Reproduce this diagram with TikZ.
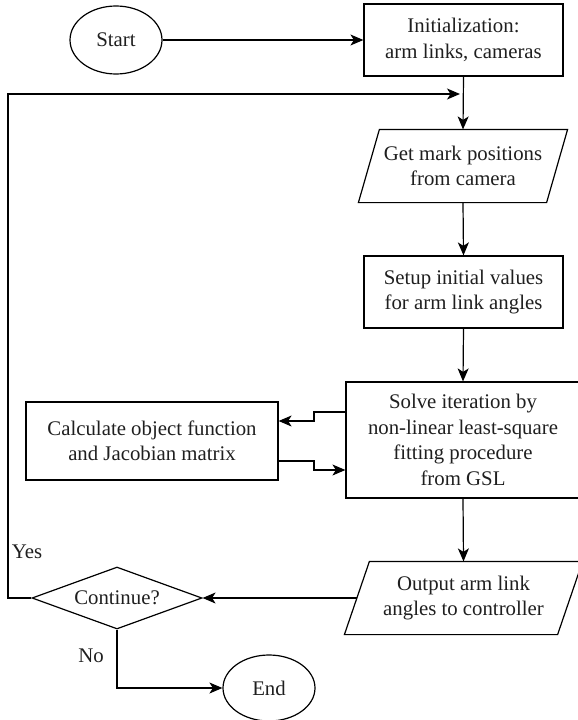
\documentclass[tikz,border=0pt]{standalone}
\usepackage{fontspec}
\setmainfont{Liberation Serif}
\usetikzlibrary{arrows.meta,shapes.geometric,calc}
\begin{document}
\begin{tikzpicture}[x=1pt,y=-1pt,
  line width=1.2pt,
  every node/.style={font=\fontsize{20.8}{25.5}\selectfont, align=center, inner sep=0pt, text=black!88},
  box/.style={draw, rectangle, minimum width=#1},
  oval/.style={draw, ellipse, minimum width=92pt, minimum height=68pt},
  para/.style={rectangle, minimum height=72pt},
  arr/.style={-{Stealth[length=13pt,width=11pt,inset=3.5pt]}},
  lbl/.style={font=\fontsize{20.8}{25.5}\selectfont}
]
\useasboundingbox (0,0) rectangle (578,720);
\clip (0,0) rectangle (578,720);

% nodes
\node[oval] (start) at (116,40) {Start};
\node[box=199pt, minimum height=72pt] (init) at (463.5,40) {Initialization:\\arm links, cameras};
\node[para, minimum width=208pt] (get) at (463,166) {Get mark positions\\from camera};
\draw ($(get.north west)+(21,0)$) -- (get.north east) -- ($(get.south east)-(21,0)$) -- (get.south west) -- cycle;
\node[box=199pt, minimum height=72pt] (setup) at (463.5,292) {Setup initial values\\for arm link angles};
\node[box=234pt, minimum height=116pt] (solve) at (463,440) {Solve iteration by\\non-linear least-square\\fitting procedure\\from GSL};
\node[box=252pt, minimum height=78pt] (calc) at (152,441) {Calculate object function\\and Jacobian matrix};
\node[para, minimum width=237pt] (out) at (463.5,598) {Output arm link\\angles to controller};
\draw ($(out.north west)+(25,0)$) -- (out.north east) -- ($(out.south east)-(25,0)$) -- (out.south west) -- cycle;
\node[diamond, draw, minimum width=170pt, minimum height=62pt, aspect=2.74] (cont) at (117,598) {Continue?};
\node[oval, minimum height=66pt] (end) at (269,688) {End};

% labels
\node[lbl] (yes) at (27,552) {Yes};
\node[lbl] (no) at (91,656) {No};

% coordinates
\coordinate (fbleft) at (8,94);
\coordinate (fbend) at (460,94);
\coordinate (outw) at ($(out.west)+(12.5,0)$);

% connectors
\draw[arr] (start.east) -- (init.west);
\draw[arr] (init.south) -- (get.north);
\draw[arr] (cont.west) -| (fbleft) -- (fbend);
\draw[arr] (get.south) -- (setup.north);
\draw[arr] (setup.south) -- (solve.north);
\draw[arr] (solve.west |- 0,412) -- (314,412) -- (314,421) -- (calc.east |- 0,421);
\draw[arr] (calc.east |- 0,461) -- (314,461) -- (314,470) -- (solve.west |- 0,470);
\draw[arr] (solve.south) -- (out.north);
\draw[arr] (outw) -- (cont.east);
\draw[arr] (cont.south) |- (end.west);
\end{tikzpicture}
\end{document}
